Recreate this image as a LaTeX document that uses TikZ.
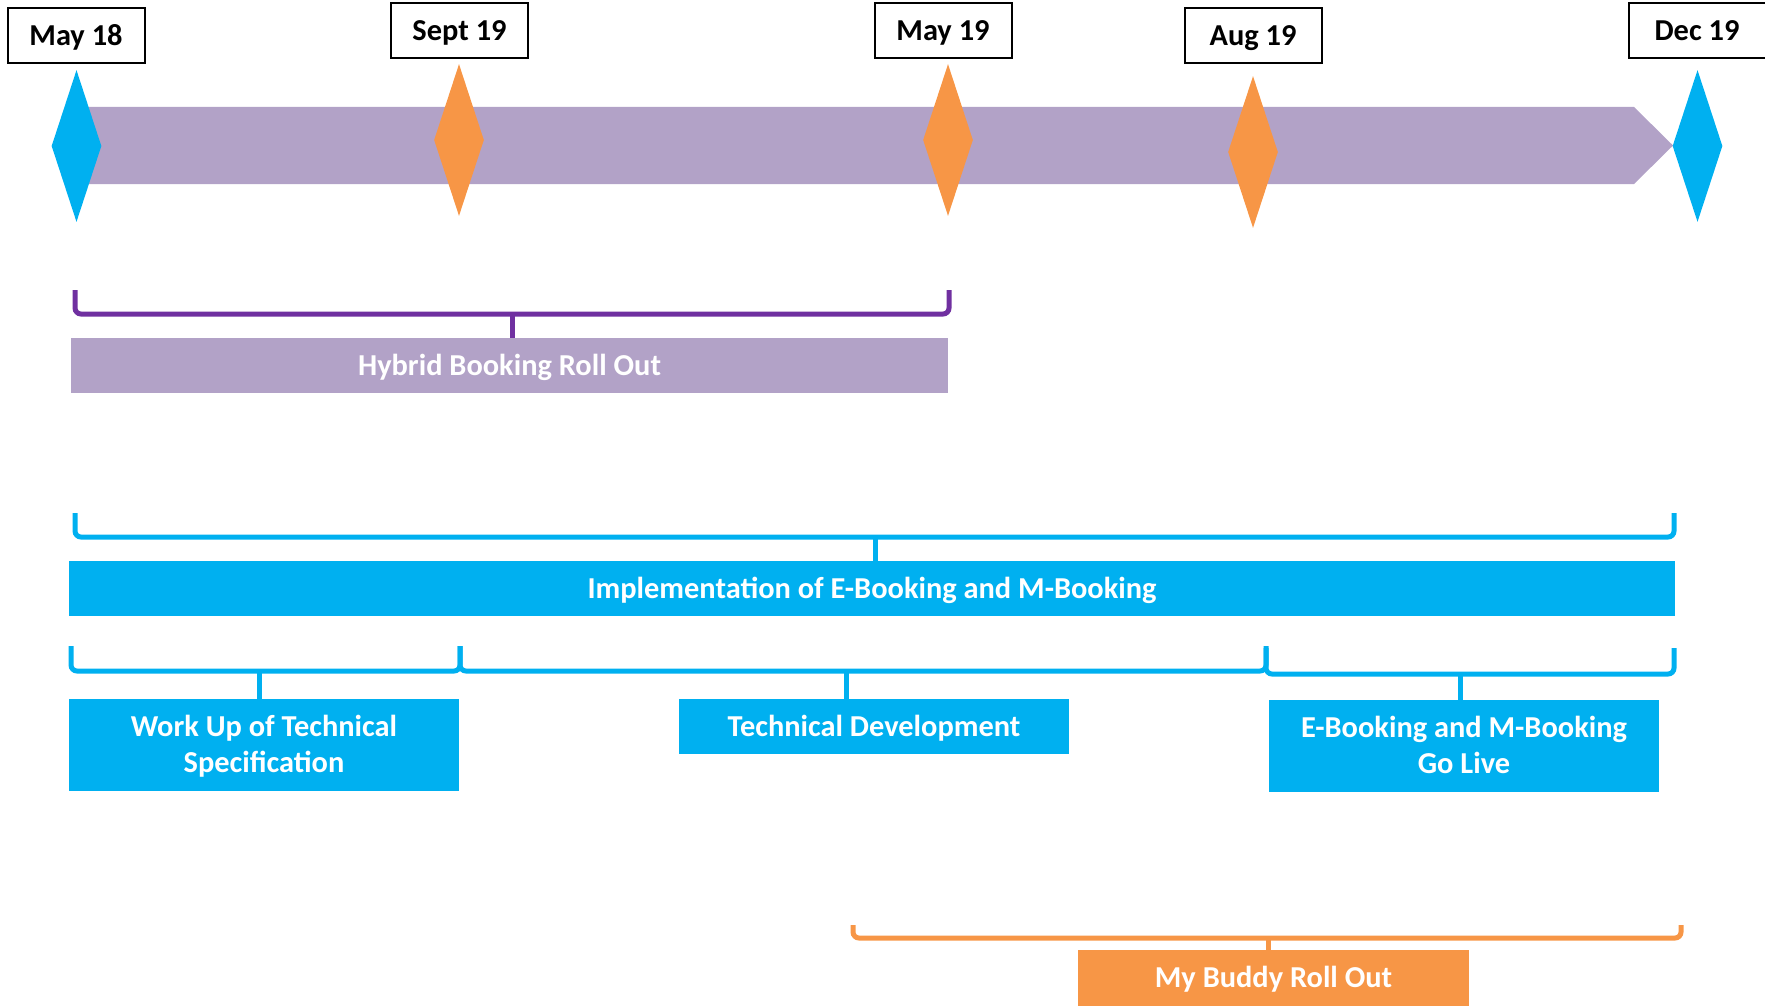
\documentclass[tikz,border=0pt]{standalone}
\usepackage{fontspec}
\setmainfont{Carlito}
\usetikzlibrary{shapes.geometric}

\definecolor{barlilac}{HTML}{B2A2C7}
\definecolor{msblue}{HTML}{00B0F0}
\definecolor{msorange}{HTML}{F79646}
\definecolor{braceviolet}{HTML}{7030A0}

\begin{document}
\begin{tikzpicture}[
    x=0.5pt,y=-0.5pt,
    every node/.style={
      font=\fontsize{15.2}{18}\selectfont\bfseries,
      text height=9.7pt,text depth=0pt
    },
    datebox/.style={
      draw=black,line width=1pt,fill=white,
      minimum width=68.5pt,minimum height=27.5pt,inner sep=0pt
    },
    milestone/.style={
      diamond,fill=#1,
      minimum width=25pt,minimum height=76pt,inner sep=0pt
    },
    phase/.style={
      fill=#1,text=white,
      minimum height=27.5pt,inner sep=0pt,align=center
    },
    widephase/.style={
      phase=#1,text height=27.7pt,
      minimum width=195pt,minimum height=46pt
    },
    brace/.style={
      draw=#1,line width=2.5pt,rounded corners=3pt
    }]
      \useasboundingbox (0,0) rectangle (1765,1006);

      % timeline
      \fill[barlilac] (76,107) -- (1634,107) -- (1673,145.5) -- (1634,184) -- (76,184) -- cycle;

      \node[milestone=msblue]   (may18)  at (76.5,146) {};
      \node[milestone=msorange] (sept19) at (459,140) {};
      \node[milestone=msorange] (may19)  at (948,140) {};
      \node[milestone=msorange] (aug19)  at (1253,152) {};
      \node[milestone=msblue]   (dec19)  at (1697.5,146) {};

      \node[datebox] (may18label)  at (76,35.5)  {May 18};
      \node[datebox] (sept19label) at (459.5,31) {Sept 19};
      \node[datebox] (may19label)  at (943,31)   {May 19};
      \node[datebox] (aug19label)  at (1253,35.5) {Aug 19};
      \node[datebox] (dec19label)  at (1697,31)  {Dec 19};

      % phases
      \node[phase=barlilac,minimum width=438.5pt] (hybrid) at (509.5,365.5) {Hybrid Booking Roll Out};
      \node[phase=msblue,minimum width=803pt] (impl) at (872,588.5) {Implementation of E-Booking and M-Booking};
      \node[widephase=msblue] (workup) at (264,745) {Work Up of Technical\\Specification};
      \node[phase=msblue,minimum width=195pt] (techdev) at (874,726.5) {Technical Development};
      \node[widephase=msblue] (golive) at (1464,746) {E-Booking and M-Booking\\Go Live};
      \node[phase=msorange,minimum width=195.5pt,minimum height=28pt] (buddy) at (1273.5,978) {My Buddy Roll Out};

      % braces
      \coordinate (hybridtip) at (512,314);
      \draw[brace=braceviolet] (75,290) |- (hybridtip) -| (949,290);
      \draw[brace=braceviolet] (hybridtip) -- (hybridtip |- hybrid.north);

      \coordinate (impltip) at (875,537);
      \draw[brace=msblue] (75,513) |- (impltip) -| (1674,513);
      \draw[brace=msblue] (impltip) -- (impltip |- impl.north);

      \coordinate (workuptip) at (259,671);
      \draw[brace=msblue] (71,646) |- (workuptip) -| (460,646);
      \draw[brace=msblue] (workuptip) -- (workuptip |- workup.north);

      \coordinate (techdevtip) at (846.5,671);
      \draw[brace=msblue] (460,646) |- (techdevtip) -| (1266,646);
      \draw[brace=msblue] (techdevtip) -- (techdevtip |- techdev.north);

      \coordinate (golivetip) at (1460,674);
      \draw[brace=msblue] (1266,648) |- (golivetip) -| (1674,648);
      \draw[brace=msblue] (golivetip) -- (golivetip |- golive.north);

      \coordinate (buddytip) at (1268,938);
      \draw[brace=msorange] (853,925) |- (buddytip) -| (1681,925);
      \draw[brace=msorange] (buddytip) -- (buddytip |- buddy.north);
  \end{tikzpicture}
\end{document}
